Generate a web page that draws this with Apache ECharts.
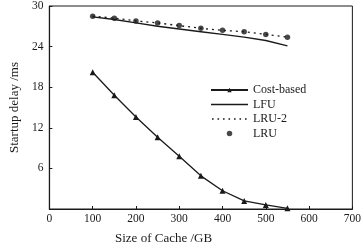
<!DOCTYPE html>
<html><head><meta charset="utf-8">
<script src="https://cdn.jsdelivr.net/npm/echarts@6/dist/echarts.min.js"></script>
<style>html,body{margin:0;padding:0;background:#fff}#c{width:364px;height:242px}</style>
</head><body><div id="c"></div>
<script>
const cacheSizes = [100, 150, 200, 250, 300, 350, 400, 450, 500, 550];
const costBased = [20.2, 16.8, 13.6, 10.6, 7.8, 4.9, 2.7, 1.2, 0.6, 0.1];
const lfu = [28.4, 28.0, 27.5, 27.0, 26.6, 26.2, 25.8, 25.4, 24.9, 24.1];
const lru2 = [28.5, 28.2, 27.8, 27.5, 27.1, 26.7, 26.4, 26.2, 25.8, 25.4];
const lru = [28.5, 28.2, 27.8, 27.5, 27.1, 26.7, 26.4, 26.2, 25.8, 25.4];
const seriesNames = ['Cost-based', 'LFU', 'LRU-2', 'LRU'];
const xTicks = [0, 100, 200, 300, 400, 500, 600, 700];
const yTicks = [0, 6, 12, 18, 24, 30];

const pair = arr => cacheSizes.map((x, i) => [x, arr[i]]);
const ink = '#1a1a1a';
const serif = '"Liberation Serif", "DejaVu Serif", serif';
const solidIcon = 'path://M0,0H37V1.4H0Z';
let dotted = '';
for (let k = 0; k < 7; k++) { const x0 = 1 + k * 5.5; dotted += 'M' + x0 + ',0H' + (x0 + 1.6) + 'V1.3H' + x0 + 'Z'; }
const dottedIcon = 'path://M0,0H0.01V1.3H0Z' + dotted + 'M36.99,0H37V1.3H36.99Z';
const chart = echarts.init(document.getElementById('c'));
chart.setOption({
  animation: false,
  backgroundColor: '#fff',
  textStyle: { fontFamily: serif, color: ink },
  grid: { left: 35, right: 10, top: 6, bottom: 33, show: true, borderColor: ink, borderWidth: 1 },
  xAxis: {
    type: 'value', min: xTicks[0], max: xTicks[xTicks.length - 1], interval: 100,
    axisLine: { lineStyle: { color: ink, width: 1.2 } },
    axisTick: { inside: true, length: 3, lineStyle: { color: ink } },
    axisLabel: { color: ink, fontFamily: serif, fontSize: 11.5, margin: 4 },
    splitLine: { show: false }
  },
  yAxis: {
    type: 'value', min: yTicks[0], max: yTicks[yTicks.length - 1], interval: 6,
    name: 'Startup delay /ms', nameLocation: 'middle', nameGap: 25,
    nameTextStyle: { fontFamily: serif, fontSize: 13, color: ink },
    axisLine: { show: true, lineStyle: { color: ink, width: 1.2 } },
    axisTick: { show: true, inside: true, length: 3, lineStyle: { color: ink } },
    axisLabel: { color: ink, fontFamily: serif, fontSize: 11.5, margin: 6, showMinLabel: false },
    splitLine: { show: false }
  },
  legend: {
    orient: 'vertical', left: 205, top: 79,
    itemWidth: 37, itemHeight: 5.5, itemGap: 2.5,
    textStyle: { fontFamily: serif, fontSize: 12, color: ink },
    data: [
      { name: seriesNames[0] },
      { name: seriesNames[1], icon: solidIcon },
      { name: seriesNames[2], icon: dottedIcon },
      { name: seriesNames[3] }
    ]
  },
  graphic: [{
    type: 'text', left: 115, top: 232,
    style: { text: 'Size of Cache /GB', font: '13px ' + serif, fill: ink }
  }],
  series: [
    { name: seriesNames[0], type: 'line', data: pair(costBased), symbol: 'triangle', symbolSize: 6,
      lineStyle: { color: ink, width: 1.3 }, itemStyle: { color: ink } },
    { name: seriesNames[1], type: 'line', data: pair(lfu), symbol: 'none',
      lineStyle: { color: ink, width: 1.4 }, itemStyle: { color: ink } },
    { name: seriesNames[2], type: 'line', data: pair(lru2), symbol: 'none',
      lineStyle: { color: ink, width: 1.3, type: [2, 4] }, itemStyle: { color: ink } },
    { name: seriesNames[3], type: 'scatter', data: pair(lru), symbol: 'circle', symbolSize: 5.5,
      itemStyle: { color: ink } }
  ]
});
</script></body></html>
